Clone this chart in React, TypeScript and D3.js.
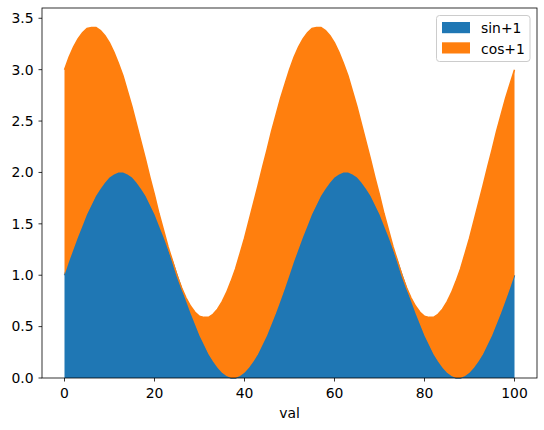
import { FC } from "react";
import * as d3 from "d3";

const WIDTH = 544;
const HEIGHT = 430;
const MARGIN = { top: 8, right: 7, bottom: 52, left: 42 };
const FONT = "DejaVu Sans, sans-serif";

const keys = ["sin+1", "cos+1"];
const colors = ["#1f77b4", "#ff7f0e"];

// index "val" 0..100
const val: number[] = d3.range(0, 101);

const sinVals: number[] = [
  1.0, 1.13, 1.25, 1.37, 1.48, 1.59, 1.68, 1.77, 1.84, 1.9, 1.95, 1.98, 2.0, 2.0,
  1.98, 1.95, 1.9, 1.84, 1.77, 1.68, 1.59, 1.48, 1.37, 1.25, 1.13, 1.0, 0.87,
  0.75, 0.63, 0.52, 0.41, 0.32, 0.23, 0.16, 0.1, 0.05, 0.02, 0.0, 0.0, 0.02,
  0.05, 0.1, 0.16, 0.23, 0.32, 0.41, 0.52, 0.63, 0.75, 0.87, 1.0, 1.13, 1.25,
  1.37, 1.48, 1.59, 1.68, 1.77, 1.84, 1.9, 1.95, 1.98, 2.0, 2.0, 1.98, 1.95, 1.9,
  1.84, 1.77, 1.68, 1.59, 1.48, 1.37, 1.25, 1.13, 1.0, 0.87, 0.75, 0.63, 0.52,
  0.41, 0.32, 0.23, 0.16, 0.1, 0.05, 0.02, 0.0, 0.0, 0.02, 0.05, 0.1, 0.16, 0.23,
  0.32, 0.41, 0.52, 0.63, 0.75, 0.87, 1.0,
];

const cosVals: number[] = [
  2.0, 1.99, 1.97, 1.93, 1.88, 1.81, 1.73, 1.64, 1.54, 1.43, 1.31, 1.19, 1.06,
  0.94, 0.81, 0.69, 0.57, 0.46, 0.36, 0.27, 0.19, 0.12, 0.07, 0.03, 0.01, 0.0,
  0.01, 0.03, 0.07, 0.12, 0.19, 0.27, 0.36, 0.46, 0.57, 0.69, 0.81, 0.94, 1.06,
  1.19, 1.31, 1.43, 1.54, 1.64, 1.73, 1.81, 1.88, 1.93, 1.97, 1.99, 2.0, 1.99,
  1.97, 1.93, 1.88, 1.81, 1.73, 1.64, 1.54, 1.43, 1.31, 1.19, 1.06, 0.94, 0.81,
  0.69, 0.57, 0.46, 0.36, 0.27, 0.19, 0.12, 0.07, 0.03, 0.01, 0.0, 0.01, 0.03,
  0.07, 0.12, 0.19, 0.27, 0.36, 0.46, 0.57, 0.69, 0.81, 0.94, 1.06, 1.19, 1.31,
  1.43, 1.54, 1.64, 1.73, 1.81, 1.88, 1.93, 1.97, 1.99, 2.0,
];

const xTicks = [0, 20, 40, 60, 80, 100];
const yTicks = [0, 0.5, 1, 1.5, 2, 2.5, 3, 3.5];

type Row = { val: number; "sin+1": number; "cos+1": number };

const App: FC = () => {
  const rows: Row[] = val.map((v, i) => ({
    val: v,
    "sin+1": sinVals[i],
    "cos+1": cosVals[i],
  }));

  const x = d3
    .scaleLinear()
    .domain([-5, 105])
    .range([MARGIN.left, WIDTH - MARGIN.right]);
  const y = d3
    .scaleLinear()
    .domain([0, 3.6])
    .range([HEIGHT - MARGIN.bottom, MARGIN.top]);

  const series = d3.stack<Row>().keys(keys)(rows);

  const area = d3
    .area<d3.SeriesPoint<Row>>()
    .x((d) => x(d.data.val))
    .y0((d) => y(d[0]))
    .y1((d) => y(d[1]));
  const line = d3
    .line<d3.SeriesPoint<Row>>()
    .x((d) => x(d.data.val))
    .y((d) => y(d[1]));

  const x0 = MARGIN.left;
  const x1 = WIDTH - MARGIN.right;
  const y0 = HEIGHT - MARGIN.bottom;
  const y1 = MARGIN.top;

  return (
    <svg
      width={WIDTH}
      height={HEIGHT}
      style={{ position: "absolute", left: 0, top: 0, background: "#fff" }}
      fontFamily={FONT}
    >
      {series.map((s, i) => (
        <g key={s.key}>
          <path d={area(s) ?? ""} fill={colors[i]} />
          <path d={line(s) ?? ""} fill="none" stroke={colors[i]} strokeWidth={1.5} />
        </g>
      ))}

      {/* spines */}
      <rect
        x={x0}
        y={y1}
        width={x1 - x0}
        height={y0 - y1}
        fill="none"
        stroke="#000"
        strokeWidth={0.8}
      />

      {/* x axis */}
      {xTicks.map((t) => (
        <g key={t} transform={`translate(${x(t)},${y0})`}>
          <line y2={3.5} stroke="#000" strokeWidth={0.8} />
          <text y={19.5} textAnchor="middle" fontSize={13.9} fill="#000">
            {t}
          </text>
        </g>
      ))}
      <text
        x={(x0 + x1) / 2}
        y={418}
        textAnchor="middle"
        fontSize={13.9}
        fill="#000"
      >
        val
      </text>

      {/* y axis */}
      {yTicks.map((t) => (
        <g key={t} transform={`translate(${x0},${y(t)})`}>
          <line x2={-3.5} stroke="#000" strokeWidth={0.8} />
          <text
            x={-8.4}
            dy="0.35em"
            textAnchor="end"
            fontSize={13.9}
            fill="#000"
          >
            {d3.format(".1f")(t)}
          </text>
        </g>
      ))}

      {/* legend */}
      <rect
        x={436.5}
        y={15.5}
        width={93.5}
        height={46}
        rx={3}
        fill="#fff"
        fillOpacity={0.8}
        stroke="#ccc"
        strokeWidth={1}
      />
      {keys.map((k, i) => (
        <g key={k} transform={`translate(442,${22 + i * 20.3})`}>
          <rect width={28} height={11.2} fill={colors[i]} />
          <text x={39} y={11.2} fontSize={13.9} fill="#000">
            {k}
          </text>
        </g>
      ))}
    </svg>
  );
};

export default App;
